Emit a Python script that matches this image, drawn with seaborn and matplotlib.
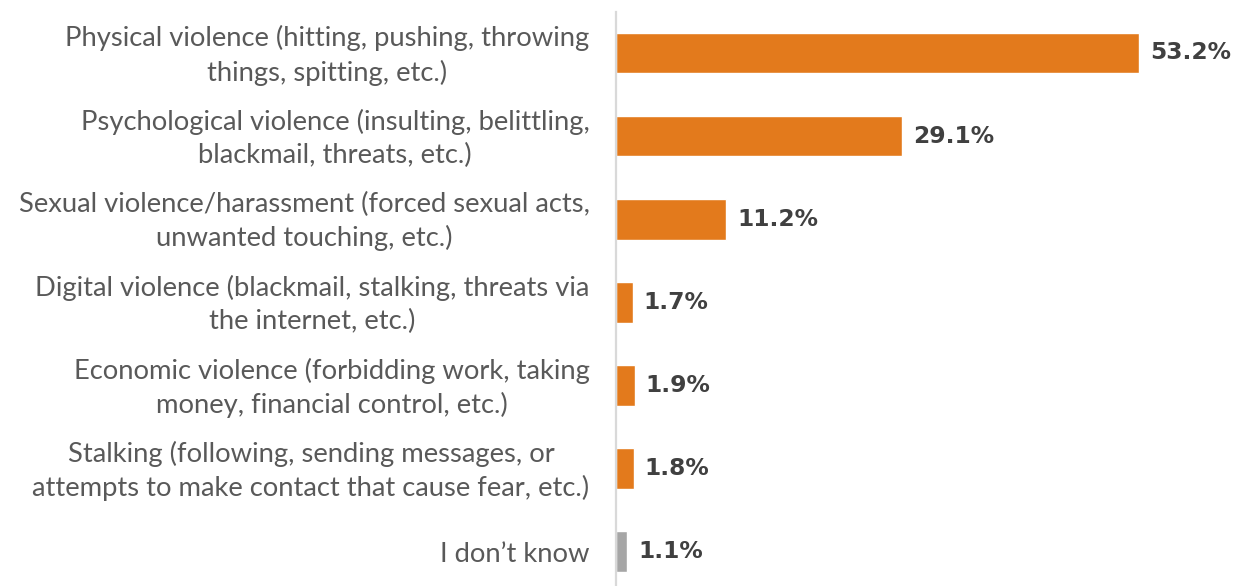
import matplotlib
matplotlib.use("Agg")
import matplotlib.pyplot as plt
import matplotlib.transforms as mtransforms
import seaborn as sns
import pandas as pd

categories = [
    "Physical violence (hitting, pushing, throwing\nthings, spitting, etc.)",
    "Psychological violence (insulting, belittling,\nblackmail, threats, etc.)",
    "Sexual violence/harassment (forced sexual acts,\nunwanted touching, etc.)",
    "Digital violence (blackmail, stalking, threats via\nthe internet, etc.)",
    "Economic violence (forbidding work, taking\nmoney, financial control, etc.)",
    "Stalking (following, sending messages, or\nattempts to make contact that cause fear, etc.)",
    "I don\u2019t know",
]
values = [53.2, 29.1, 11.2, 1.7, 1.9, 1.8, 1.1]
bar_colors = ["#E37A1C"] * 6 + ["#A6A6A6"]

df = pd.DataFrame({"category": categories, "value": values})

sns.set_theme(style="white")
plt.rcParams["font.family"] = ["Lato", "DejaVu Sans"]

W, H = 1237, 586
fig = plt.figure(figsize=(W / 100, H / 100), dpi=100)
ax = fig.add_axes([616 / W, 0, 1 - 616 / W, 1 - 12 / H])

sns.barplot(data=df, x="value", y="category", hue="category",
            palette=bar_colors, legend=False, width=0.49, ax=ax,
            saturation=1, orient="h")

ax.set_xlim(0, (W - 616) / 9.84)
ax.set_ylim(6.415, -0.493)

for i, v in enumerate(values):
    ax.annotate(f"{v:.1f}%", xy=(v, i), xytext=(8, 0), textcoords="offset points",
                va="center", ha="left", fontsize=16.8, fontweight="bold",
                color="#404040", family="DejaVu Sans")

ax.set_xlabel("")
ax.set_ylabel("")
ax.set_xticks([])
ax.tick_params(axis="y", length=0, pad=19)
lift = mtransforms.ScaledTranslation(0, 4 / 100, fig.dpi_scale_trans)
for lbl in ax.get_yticklabels():
    lbl.set_multialignment("center")
    lbl.set_fontsize(19.7)
    lbl.set_color("#595959")
    lbl.set_linespacing(1.38)
    if "\n" in lbl.get_text():
        lbl.set_transform(lbl.get_transform() + lift)

for s in ["top", "right", "bottom"]:
    ax.spines[s].set_visible(False)
ax.spines["left"].set_color("#D9D9D9")
ax.spines["left"].set_linewidth(1.6)

fig.savefig("out.png", dpi=100)
